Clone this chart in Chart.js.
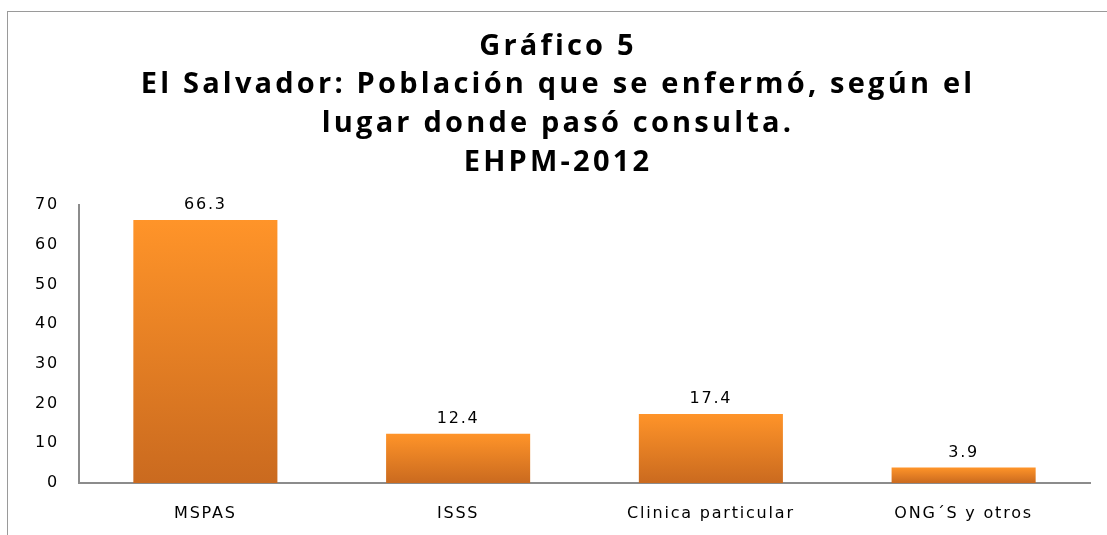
<!DOCTYPE html>
<html><head><meta charset="utf-8">
<script src="https://cdn.jsdelivr.net/npm/chart.js@4.4.0/dist/chart.umd.min.js"></script>
<style>
html,body{margin:0;padding:0;background:#fff;}
#wrap{position:relative;width:1107px;height:535px;}
#frame{position:absolute;left:7px;top:11px;width:1120px;height:540px;border-left:1px solid #9a9a9a;border-top:1px solid #9a9a9a;}
canvas{position:absolute;left:0;top:0;}
</style></head>
<body>
<div id="wrap"><div id="frame"></div><canvas id="c" width="1107" height="535"></canvas></div>
<script>
const titleLines = ['Gráfico 5', 'El Salvador: Población que se enfermó, según el', 'lugar donde pasó consulta.', 'EHPM-2012'];
const categories = ['MSPAS', 'ISSS', 'Clinica particular', 'ONG´S y otros'];
const values = [66.3, 12.4, 17.4, 3.9];
const yTicks = [0, 10, 20, 30, 40, 50, 60, 70];

const tickFont = {family: 'DejaVu Sans', size: 16};

function barGradient(ctx) {
  const chart = ctx.chart;
  const area = chart.chartArea;
  if (!area || ctx.type !== 'data') return '#F28C28';
  const ys = chart.scales.y;
  const top = ys.getPixelForValue(ctx.parsed.y);
  const bottom = ys.getPixelForValue(0);
  const g = chart.ctx.createLinearGradient(0, top, 0, bottom);
  g.addColorStop(0, '#FF9429');
  g.addColorStop(1, '#CA6A1F');
  return g;
}

const spacingPlugin = {
  id: 'spacing',
  beforeDraw(chart) { chart.ctx.letterSpacing = '1.8px'; },
  afterLayout(chart) {
    const tb = chart.titleBlock;
    if (tb && !tb._spaced) {
      const orig = tb.draw.bind(tb);
      tb.draw = function () {
        const c = chart.ctx;
        c.save();
        c.letterSpacing = '3.2px';
        c.translate(9, 0);
        orig();
        c.restore();
      };
      tb._spaced = true;
    }
  }
};

const labelPlugin = {
  id: 'valueLabels',
  afterDatasetsDraw(chart) {
    const ctx = chart.ctx;
    const meta = chart.getDatasetMeta(0);
    ctx.save();
    ctx.font = '16px "DejaVu Sans"';
    ctx.fillStyle = '#000';
    ctx.textAlign = 'center';
    ctx.textBaseline = 'bottom';
    meta.data.forEach((el, i) => {
      ctx.fillText(values[i].toFixed(1), el.x, el.y - 7);
    });
    ctx.restore();
  }
};

new Chart(document.getElementById('c'), {
  type: 'bar',
  data: {
    labels: categories,
    datasets: [{
      data: values,
      backgroundColor: barGradient,
      borderWidth: 0,
      categoryPercentage: 1,
      barPercentage: 0.57
    }]
  },
  options: {
    responsive: false,
    animation: false,
    events: [],
    layout: {padding: {top: 11, left: 8, right: 17, bottom: 0}},
    plugins: {
      legend: {display: false},
      tooltip: {enabled: false},
      title: {
        display: true,
        text: titleLines,
        color: '#000',
        font: {family: 'Open Sans', weight: 'bold', size: 29, lineHeight: 1.338},
        padding: {top: 16, bottom: 23}
      }
    },
    scales: {
      x: {
        grid: {display: false, drawTicks: false},
        border: {display: true, color: '#8c8c8c', width: 2},
        ticks: {color: '#000', font: tickFont, padding: 21},
        afterFit(s) { s.height = 52; }
      },
      y: {
        min: 0, max: 70,
        grid: {display: false, drawTicks: false},
        border: {display: true, color: '#8c8c8c', width: 2},
        ticks: {
          color: '#000', font: tickFont, padding: 20,
          stepSize: 10,
          callback: (v) => yTicks.includes(v) ? String(v) : ''
        },
        afterFit(s) { s.width = 71; }
      }
    }
  },
  plugins: [spacingPlugin, labelPlugin]
});
</script>
</body></html>
